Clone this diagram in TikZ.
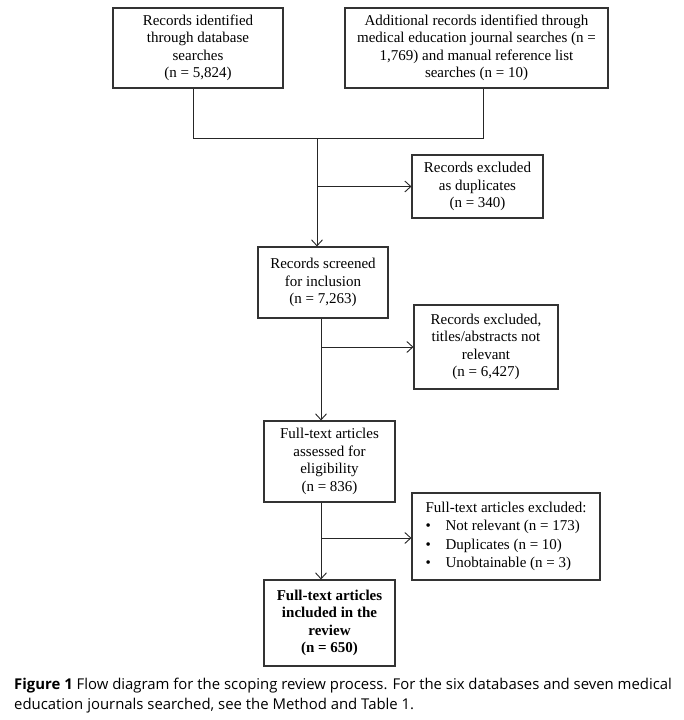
\documentclass[tikz,border=0pt]{standalone}
\usepackage{fontspec}
\setmainfont{Liberation Serif}
\newfontfamily\capfont{Open Sans}
\usetikzlibrary{arrows.meta}
\begin{document}
\begin{tikzpicture}[x=1pt,y=-1pt,
  box/.style={draw=black!80, line width=1.1pt, rectangle, inner sep=0pt,
    align=center, font=\fontsize{15}{17.5}\selectfont},
  conn/.style={draw=black!85, line width=0.9pt},
  arr/.style={conn, -{Straight Barb[length=6pt,width=11pt]}}
]
\useasboundingbox (0,0) rectangle (683,720);
\fill[white] (0,0) rectangle (683,720);

\node[box, minimum width=170pt, minimum height=80pt] (b1) at (198,48)
  {Records identified\\through database\\searches\\(n = 5,824)};
\node[box, minimum width=263pt, minimum height=80pt] (b2) at (476.5,48)
  {Additional records identified through\\medical education journal searches (n =\\1,769) and manual reference list\\searches (n = 10)};
\node[box, minimum width=131pt, minimum height=63pt] (dup) at (477.5,186.5)
  {Records excluded\\as duplicates\\(n = 340)};
\node[box, minimum width=130pt, minimum height=71pt] (b3) at (323,282.5)
  {Records screened\\for inclusion\\(n = 7,263)};
\node[box, minimum width=144pt, minimum height=84pt] (ex2) at (486,347)
  {Records excluded,\\titles/abstracts not\\relevant\\(n = 6,427)};
\node[box, minimum width=131pt, minimum height=81pt] (b4) at (329.5,461.5)
  {Full-text articles\\assessed for\\eligibility\\(n = 836)};
\node[box, minimum width=188pt, minimum height=87pt, align=left,
  font=\fontsize{15}{18.5}\selectfont] (ex3) at (506,536.5)
  {Full-text articles excluded:\\
   \makebox[20pt][l]{\textbullet}Not relevant (n = 173)\\
   \makebox[20pt][l]{\textbullet}Duplicates (n = 10)\\
   \makebox[20pt][l]{\textbullet}Unobtainable (n = 3)};
\node[box, minimum width=131pt, minimum height=86pt,
  font=\fontsize{15}{17.3}\selectfont\bfseries] (b5) at (329.5,623)
  {Full-text articles\\included in the\\review\\(n = 650)};

\coordinate (j1) at (193,138);
\coordinate (j2) at (483,138);
\coordinate (m) at (317,138);
\coordinate (v) at (321,0);

\draw[conn] (b1.south -| j1) -- (j1) -- (j2) -- (b2.south -| j2);
\draw[arr] (m) -- (b3.north -| m);
\draw[arr] (m |- dup.west) -- (dup.west);
\draw[arr] (b3.south -| v) -- (b4.north -| v);
\draw[arr] (v |- ex2.west) -- (ex2.west);
\draw[arr] (b4.south -| v) -- (b5.north -| v);
\coordinate (k) at (321,538);
\draw[arr] (k) -- (k -| ex3.west);

\node[anchor=north west, inner sep=0pt, align=left,
  font=\capfont\fontsize{14.9}{19.5}\selectfont] (cap) at (14,678)
  {\textbf{Figure 1} Flow diagram for the scoping review process. For the six databases and seven medical\\
   education journals searched, see the Method and Table 1.};
\end{tikzpicture}
\end{document}
